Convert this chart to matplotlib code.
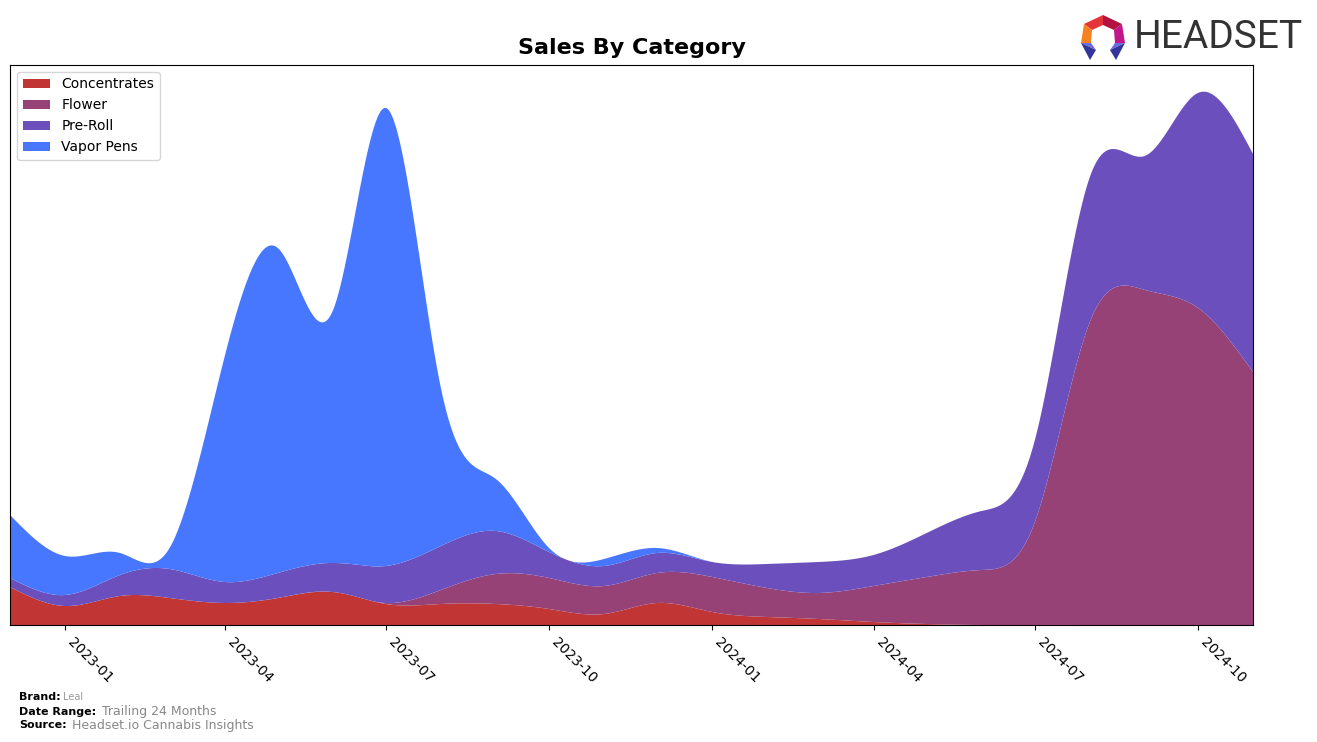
import numpy as np
import pandas as pd
import matplotlib
matplotlib.use("Agg")
import matplotlib.pyplot as plt
import matplotlib.dates as mdates
from matplotlib.patches import Polygon

# monthly values (arbitrary units, y axis has no labels)
months = ["2022-12", "2023-01", "2023-02", "2023-03", "2023-04", "2023-05",
          "2023-06", "2023-07", "2023-08", "2023-09", "2023-10", "2023-11",
          "2023-12", "2024-01", "2024-02", "2024-03", "2024-04", "2024-05",
          "2024-06", "2024-07", "2024-08", "2024-09", "2024-10", "2024-11"]
concentrates = [38, 19, 29, 27, 22, 27, 33, 21, 21, 21, 16, 11,
                22, 13, 8, 6, 3, 1, 0, 0, 0, 0, 0, 0]
flower = [0, 0, 0, 0, 0, 0, 0, 1, 14, 30, 31, 28,
          30, 35, 29, 26, 36, 47, 55, 103, 303, 335, 317, 253]
pre_roll = [9, 11, 21, 29, 21, 25, 29, 37, 44, 43, 26, 20,
            20, 15, 24, 31, 31, 44, 59, 82, 145, 134, 215, 218]
vapor_pens = [63, 39, 22, 21, 225, 325, 252, 458, 158, 52, 4, 7,
              5, 0, 0, 0, 0, 0, 0, 0, 0, 0, 0, 0]

labels = ["Concentrates", "Flower", "Pre-Roll", "Vapor Pens"]
colors = ["#c13535", "#964277", "#6b4fbd", "#4877ff"]


def smooth(x, y, n=800):
    # natural cubic spline through the monthly points
    x = np.asarray(x, float)
    y = np.asarray(y, float)
    h = np.diff(x)
    m = len(x)
    A = np.zeros((m, m))
    b = np.zeros(m)
    A[0, 0] = A[-1, -1] = 1
    for i in range(1, m - 1):
        A[i, i - 1] = h[i - 1]
        A[i, i] = 2 * (h[i - 1] + h[i])
        A[i, i + 1] = h[i]
        b[i] = 3 * ((y[i + 1] - y[i]) / h[i] - (y[i] - y[i - 1]) / h[i - 1])
    c = np.linalg.solve(A, b)
    bb = (y[1:] - y[:-1]) / h - h * (2 * c[:-1] + c[1:]) / 3
    d = (c[1:] - c[:-1]) / (3 * h)
    xs = np.linspace(x[0], x[-1], n)
    idx = np.clip(np.searchsorted(x, xs, side="right") - 1, 0, m - 2)
    dx = xs - x[idx]
    ys = y[idx] + bb[idx] * dx + c[idx] * dx ** 2 + d[idx] * dx ** 3
    return xs, np.clip(ys, 0, None)


dates = pd.to_datetime(months)
xnum = mdates.date2num(dates)
series = [concentrates, flower, pre_roll, vapor_pens]
smoothed = []
for s in series:
    xs, ys = smooth(xnum, s)
    smoothed.append(ys)

fig = plt.figure(figsize=(13.17, 7.42), dpi=100)
W, H = 1317, 742
ax = fig.add_axes([10 / W, 1 - 625 / H, (1253 - 10) / W, (625 - 65) / H])

ax.stackplot(mdates.num2date(xs), *smoothed, labels=labels, colors=colors)
ax.set_xlim(mdates.num2date(xnum[0]), mdates.num2date(xnum[-1]))
ax.set_ylim(bottom=0)
ax.set_yticks([])

ax.xaxis.set_major_locator(mdates.MonthLocator(bymonth=[1, 4, 7, 10]))
ax.xaxis.set_major_formatter(mdates.DateFormatter("%Y-%m"))
plt.setp(ax.get_xticklabels(), rotation=-45, ha="left", rotation_mode="default", fontsize=10)

ax.set_title("Sales By Category", fontsize=16, fontweight="bold", pad=8)
ax.legend(loc="upper left", fontsize=10)

# footer
fig.text(19 / W, 1 - 697 / H, "Brand:", fontsize=8, fontweight="bold", va="center")
fig.text(63 / W, 1 - 697 / H, "Leal", fontsize=7, color="#999999", va="center")
fig.text(19 / W, 1 - 712 / H, "Date Range:", fontsize=8, fontweight="bold", va="center")
fig.text(102 / W, 1 - 712 / H, "Trailing 24 Months", fontsize=9, color="#888888", va="center")
fig.text(19 / W, 1 - 725 / H, "Source:", fontsize=8, fontweight="bold", va="center")
fig.text(72 / W, 1 - 725 / H, "Headset.io Cannabis Insights", fontsize=9, color="#888888", va="center")

# logo
lax = fig.add_axes([1080 / W, 1 - 60 / H, 46 / W, 45 / H])
lax.set_xlim(0, 46)
lax.set_ylim(45, 0)
lax.axis("off")
T, UR, R, UL, L = (23, 0), (42, 9), (45, 28), (4, 9), (1, 28)
t, ur, r, ul, l = (23, 10), (34, 15), (35, 28), (12, 15), (11, 28)
pieces = [
    ([T, t, ul, UL], "#e4353b"),
    ([T, UR, ur, t], "#b3143f"),
    ([UL, ul, l, L], "#f5821f"),
    ([UR, R, r, ur], "#c2168a"),
    ([L, l, (16, 35)], "#6c6ae0"),
    ([L, (16, 35), (10, 45)], "#33359a"),
    ([R, r, (30, 35)], "#6c6ae0"),
    ([R, (30, 35), (36, 45)], "#33359a"),
]
for pts, col in pieces:
    lax.add_patch(Polygon(pts, closed=True, color=col, lw=0))

fig.text(1134 / W, 1 - 37 / H, "HEADSET", fontsize=28, color="#333333",
         family=["Roboto", "DejaVu Sans"], va="center")

fig.savefig("out.png", dpi=100)
